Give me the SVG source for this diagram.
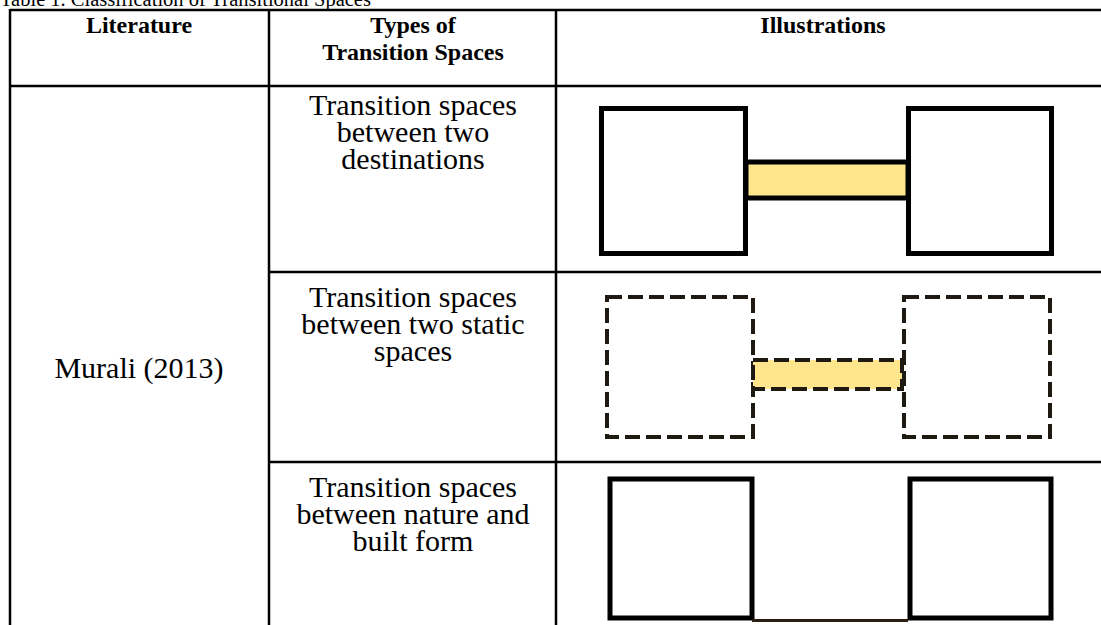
<svg xmlns="http://www.w3.org/2000/svg" width="1101" height="625" viewBox="0 0 1101 625">
<style>
.t{font-family:"Liberation Serif","Times New Roman",serif;font-size:30px;fill:#000;text-anchor:middle}
.b{font-weight:bold;font-size:24px}
.grid{stroke:#000;stroke-width:2.5;fill:none}
.solid{fill:#fff;stroke:#000;stroke-width:5}
.dash{fill:#fff;stroke:#1e1a12;stroke-width:4;stroke-dasharray:15 6}
.bar{fill:#ffe68c;stroke:#000;stroke-width:5}
.dbar{fill:#ffe68c;stroke:#1e1a12;stroke-width:4;stroke-dasharray:15 6}
</style>
<rect width="1101" height="625" fill="#fff"/>
<text class="t" x="0" y="6" style="text-anchor:start;font-size:20.5px">Table 1. Classification of Transitional Spaces</text>
<g id="table-grid" class="grid">
<line x1="10" y1="10" x2="1101" y2="10"/>
<line x1="10" y1="86" x2="1101" y2="86"/>
<line x1="269" y1="272" x2="1101" y2="272"/>
<line x1="269" y1="462" x2="1101" y2="462"/>
<line x1="10" y1="9" x2="10" y2="625"/>
<line x1="269" y1="9" x2="269" y2="625"/>
<line x1="556" y1="9" x2="556" y2="625"/>
</g>
<g id="header">
<text class="t b" x="139" y="33">Literature</text>
<text class="t b" x="413" y="33">Types of</text>
<text class="t b" x="413" y="60">Transition Spaces</text>
<text class="t b" x="823" y="33">Illustrations</text>
</g>
<g id="literature">
<text class="t" x="139" y="378">Murali (2013)</text>
</g>
<g id="type1">
<text class="t" x="413" y="115">Transition spaces</text>
<text class="t" x="413" y="142">between two</text>
<text class="t" x="413" y="169">destinations</text>
</g>
<g id="type2">
<text class="t" x="413" y="307">Transition spaces</text>
<text class="t" x="413" y="334">between two static</text>
<text class="t" x="413" y="361">spaces</text>
</g>
<g id="type3">
<text class="t" x="413" y="497">Transition spaces</text>
<text class="t" x="413" y="524">between nature and</text>
<text class="t" x="413" y="551">built form</text>
</g>
<g id="illustration1">
<rect class="solid" x="601.5" y="108.5" width="144" height="145"/>
<rect class="solid" x="908.5" y="108.5" width="143" height="145"/>
<rect class="bar" x="746" y="162" width="162" height="36"/>
</g>
<g id="illustration2">
<rect class="dash" x="607" y="297" width="146" height="140"/>
<rect class="dash" x="904" y="297" width="146" height="140"/>
<rect class="dbar" x="753" y="360" width="149" height="29"/>
</g>
<g id="illustration3">
<rect class="solid" x="610" y="479" width="142" height="139"/>
<rect class="solid" x="910" y="479" width="141" height="139"/>
<line x1="752" y1="620.5" x2="908" y2="620.5" stroke="#2a1f10" stroke-width="3"/>
</g>
</svg>
